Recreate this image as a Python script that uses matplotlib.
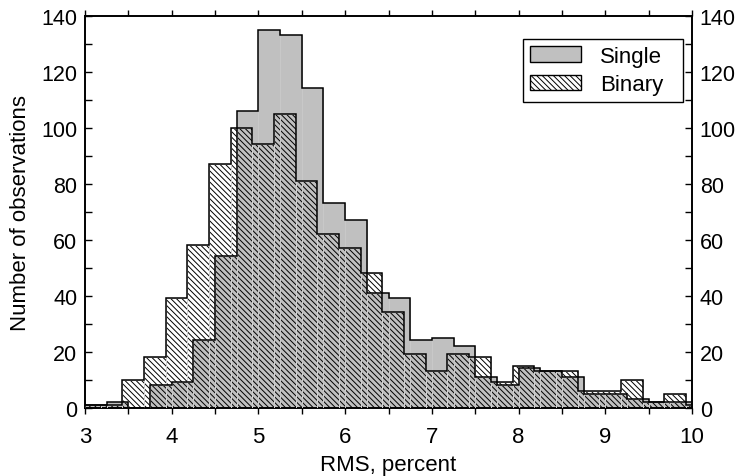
import numpy as np
import matplotlib
matplotlib.use("Agg")
import matplotlib.pyplot as plt
from matplotlib.patches import Patch

# Bin edges (RMS, percent) and counts
single_start = 3.0
binary_start = 2.93
bin_width = 0.25

single_counts = [1, 2, 0, 8, 9, 24, 54, 106, 135, 133, 114, 73, 67, 41,
                 39, 24, 25, 22, 11, 8, 14, 13, 11, 5, 5, 3, 2, 2]
binary_counts = [1, 1, 10, 18, 39, 58, 87, 100, 94, 105, 81, 62, 57, 48,
                 34, 19, 13, 19, 18, 9, 15, 13, 13, 6, 6, 10, 2, 5, 1]

x_ticks = [3, 4, 5, 6, 7, 8, 9, 10]
y_ticks = [0, 20, 40, 60, 80, 100, 120, 140]

plt.rcParams["font.family"] = ["Liberation Sans", "DejaVu Sans"]
plt.rcParams["hatch.linewidth"] = 0.7

single_edges = single_start + bin_width * np.arange(len(single_counts) + 1)
binary_edges = binary_start + bin_width * np.arange(len(binary_counts) + 1)

fig = plt.figure(figsize=(7.37, 4.77), dpi=100)
ax = fig.add_axes([0.1153, 0.1436, 0.8237, 0.8214])

# single: solid grey
ax.stairs(single_counts, single_edges, fill=True, facecolor="#c0c0c0",
          edgecolor="none", zorder=1)
# binary: hatch only, laid over the grey
ax.stairs(binary_counts, binary_edges, fill=True, facecolor="none",
          edgecolor="k", hatch="\\\\\\\\\\\\", linewidth=0, zorder=2)
# faint bar seams
ax.bar(single_edges[:-1], single_counts, width=bin_width, align="edge",
       facecolor="none", edgecolor="#c9c9c9", linewidth=0.7, zorder=3)
ax.bar(binary_edges[:-1], binary_counts, width=bin_width, align="edge",
       facecolor="none", edgecolor="#d0d0d0", linewidth=0.7, zorder=3)
# outlines
ax.stairs(single_counts, single_edges, color="k", linewidth=1.1, zorder=4)
ax.stairs(binary_counts, binary_edges, color="k", linewidth=1.1, zorder=4)

ax.set_xlim(3, 10)
ax.set_ylim(0, 140)
ax.set_xticks(x_ticks)
ax.set_xticks(np.arange(3, 10.01, 0.5), minor=True)
ax.set_yticks(y_ticks)
ax.set_yticks(np.arange(0, 141, 10), minor=True)

ax.tick_params(axis="x", which="both", direction="out", top=True,
               length=4, width=1, labelsize=16, pad=9)
ax.tick_params(axis="y", which="both", direction="in", right=True,
               labelright=True, length=5, width=1, labelsize=15.5, pad=5.5)
for s in ax.spines.values():
    s.set_linewidth(1.4)

ax.set_xlabel("RMS, percent", fontsize=16, labelpad=5)
ax.set_ylabel("Number of observations", fontsize=16, labelpad=7)

handles = [Patch(facecolor="#c0c0c0", edgecolor="k", linewidth=1),
           Patch(facecolor="white", edgecolor="k", hatch="\\\\\\\\\\\\", linewidth=1)]
leg = ax.legend(handles, ["Single", "Binary"], loc="upper left",
                bbox_to_anchor=(0.7216, 0.9405, 0.2636, 0.0), mode="expand",
                borderaxespad=0, fontsize=16, fancybox=False, framealpha=1,
                edgecolor="k", handlelength=2.3, handleheight=0.7,
                handletextpad=0.85, borderpad=0.3, labelspacing=0.35)
leg.get_frame().set_linewidth(1)

fig.savefig("out.png", dpi=100)
